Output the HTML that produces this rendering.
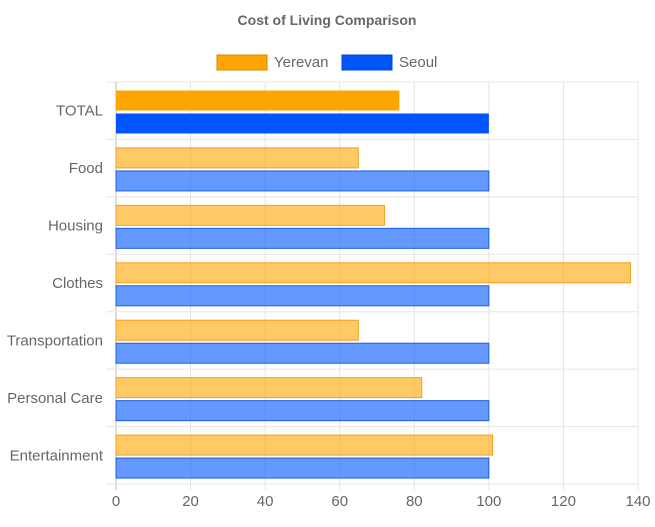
<!DOCTYPE html>
<html><head><meta charset="utf-8"><style>
body{margin:0;background:#fff;font-family:"Liberation Sans",sans-serif}
svg text{font-family:"Liberation Sans",sans-serif}
</style></head><body>
<svg id="c" width="655" height="522">
<text x="327" y="25" text-anchor="middle" font-size="14" font-weight="bold" fill="#666">Cost of Living Comparison</text>
<g>
<rect x="217" y="55" width="50" height="15" fill="#FFA500" stroke="#d08a00"/>
<text x="274" y="67" font-size="15" fill="#666">Yerevan</text>
<rect x="342" y="55" width="50" height="15" fill="#0055FF" stroke="#0044cc"/>
<text x="399" y="67" font-size="15" fill="#666">Seoul</text>
</g>
<g id="plot"></g>
</svg>
<script>
const categories=["TOTAL","Food","Housing","Clothes","Transportation","Personal Care","Entertainment"];
const yerevan=[76,65,72,138,65,82,101];
const seoul=[100,100,100,100,100,100,100];
const ticks=[0,20,40,60,80,100,120,140];
const NS="http://www.w3.org/2000/svg";
const L=116,R=638,T=82,B=484,max=140;
const xs=v=>L+v/max*(R-L);
const rowH=(B-T)/categories.length;
const g=document.getElementById('plot');
function mk(t,a){const e=document.createElementNS(NS,t);for(const k in a)e.setAttribute(k,a[k]);g.appendChild(e);return e;}
ticks.forEach(t=>{
 const l=mk('line',{x1:xs(t),x2:xs(t),y1:T,y2:B+6,stroke:t===0?'#bbb':'#e5e5e5'});
 
 
 const tx=mk('text',{x:xs(t),y:B+22,'text-anchor':'middle','font-size':15,fill:'#666'});
 tx.textContent=t;
 
 
});
for(let i=0;i<=categories.length;i++){
 const y=T+i*rowH;
 const l=mk('line',{x1:L-10,x2:R,y1:y,y2:y,stroke:'#e5e5e5'});
 
 
}
categories.forEach((c,i)=>{
 const y0=T+i*rowH;
 const tx=mk('text',{x:103,y:y0+rowH/2+5,'text-anchor':'end','font-size':15,fill:'#666'});
 tx.textContent=c;
 
 
 const solid=i===0;
 const b1=mk('rect',{x:xs(0),y:y0+8.5,width:xs(yerevan[i])-xs(0),height:20,fill:solid?'#FFA500':'rgba(255,165,0,0.6)',stroke:solid?'none':'#f0a020','stroke-width':1});
 
 
 const b2=mk('rect',{x:xs(0),y:y0+31.5,width:xs(seoul[i])-xs(0),height:20,fill:solid?'#0055FF':'rgba(0,85,255,0.6)',stroke:solid?'none':'#1a5fe0','stroke-width':1});
 
 
});
</script>
</body></html>
